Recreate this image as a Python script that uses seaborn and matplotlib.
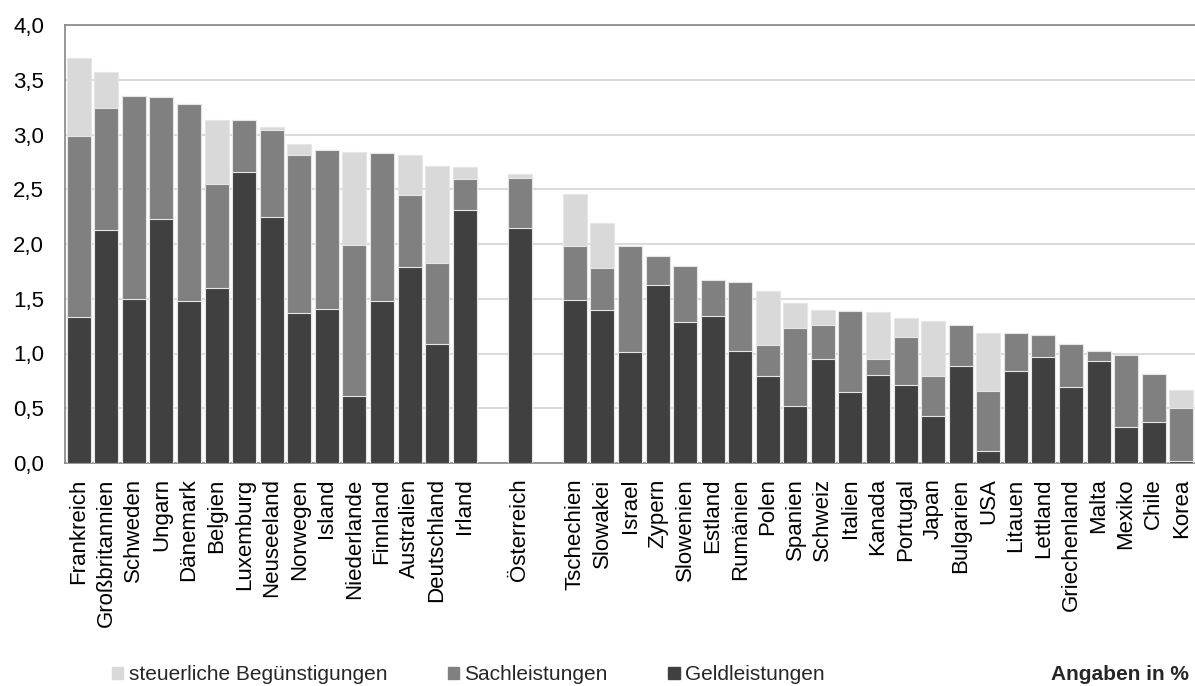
"""
Familienleistungen im OECD/EU-Vergleich (Angaben in % des BIP), gestapelte Balken.
"""

import pandas as pd
import matplotlib
matplotlib.use("Agg")
import matplotlib.pyplot as plt
from matplotlib.patches import Patch
from matplotlib.ticker import FuncFormatter, MultipleLocator
import seaborn as sns

# Daten
laender = ["Frankreich", "Großbritannien", "Schweden", "Ungarn", "Dänemark", "Belgien",
           "Luxemburg", "Neuseeland", "Norwegen", "Island", "Niederlande", "Finnland",
           "Australien", "Deutschland", "Irland", "Österreich", "Tschechien", "Slowakei",
           "Israel", "Zypern", "Slowenien", "Estland", "Rumänien", "Polen", "Spanien",
           "Schweiz", "Italien", "Kanada", "Portugal", "Japan", "Bulgarien", "USA",
           "Litauen", "Lettland", "Griechenland", "Malta", "Mexiko", "Chile", "Korea"]
geld = [1.33, 2.13, 1.50, 2.23, 1.48, 1.60, 2.66, 2.25, 1.37, 1.41, 0.61, 1.48, 1.79,
        1.09, 2.31, 2.15, 1.49, 1.40, 1.01, 1.63, 1.29, 1.34, 1.02, 0.79, 0.52, 0.95,
        0.65, 0.80, 0.71, 0.43, 0.89, 0.11, 0.84, 0.97, 0.69, 0.93, 0.33, 0.37, 0.02]
sach = [1.66, 1.11, 1.85, 1.11, 1.80, 0.95, 0.47, 0.79, 1.44, 1.45, 1.38, 1.35, 0.66,
        0.74, 0.28, 0.45, 0.49, 0.38, 0.97, 0.26, 0.51, 0.33, 0.63, 0.29, 0.71, 0.31,
        0.74, 0.15, 0.44, 0.36, 0.37, 0.55, 0.35, 0.20, 0.40, 0.09, 0.66, 0.44, 0.48]
steuer = [0.71, 0.33, 0.00, 0.00, 0.00, 0.58, 0.00, 0.03, 0.10, 0.00, 0.85, 0.00, 0.36,
          0.88, 0.11, 0.04, 0.48, 0.41, 0.00, 0.00, 0.00, 0.00, 0.00, 0.49, 0.23, 0.14,
          0.00, 0.43, 0.17, 0.51, 0.00, 0.53, 0.00, 0.00, 0.00, 0.00, 0.00, 0.00, 0.17]

df = pd.DataFrame({"land": laender, "geld": geld, "sach": sach, "steuer": steuer})
df["bis_sach"] = df["geld"] + df["sach"]
df["gesamt"] = df["bis_sach"] + df["steuer"]

# Reihenfolge mit Lücken vor und nach Österreich
reihenfolge = laender[:15] + [" "] + ["Österreich"] + ["  "] + laender[16:]

sns.set_theme(style="white")
plt.rcParams["font.family"] = ["Liberation Sans", "DejaVu Sans"]

farben = {"steuer": "#d9d9d9", "sach": "#808080", "geld": "#404040"}

fig = plt.figure(figsize=(11.95, 6.86), dpi=100)
ax = fig.add_axes([65 / 1195, 1 - 463 / 686, 1 - 65 / 1195, (463 - 25) / 686])

# übereinander gezeichnete Summen ergeben die Stapel
for spalte, farbe in [("gesamt", farben["steuer"]), ("bis_sach", farben["sach"]),
                      ("geld", farben["geld"])]:
    sns.barplot(data=df, x="land", y=spalte, order=reihenfolge, color=farbe,
                saturation=1, width=0.87, edgecolor="#e6e6e6", linewidth=0.8,
                errorbar=None, ax=ax, zorder=3)

ax.set_xlim(-0.5, len(reihenfolge) - 0.5)
ax.set_ylim(0, 4)
ax.yaxis.set_major_locator(MultipleLocator(0.5))
ax.yaxis.set_major_formatter(FuncFormatter(lambda v, p: f"{v:.1f}".replace(".", ",")))
ax.grid(axis="y", color="#d4d4d4", linewidth=1.2, zorder=0)
ax.set_axisbelow(True)
ax.set_xlabel("")
ax.set_ylabel("")

for s in ["top", "left", "bottom"]:
    ax.spines[s].set_color("#858585")
    ax.spines[s].set_linewidth(1.2)
ax.spines["right"].set_visible(False)

ax.tick_params(axis="y", length=0, pad=15, labelsize=16, labelcolor="black")
ax.tick_params(axis="x", length=0, pad=11, labelsize=16, labelcolor="black")
plt.setp(ax.get_xticklabels(), rotation=90)

handles = [Patch(color=farben["steuer"], label="steuerliche Begünstigungen"),
           Patch(color=farben["sach"], label="Sachleistungen"),
           Patch(color=farben["geld"], label="Geldleistungen")]
fig.legend(handles=handles, loc="center left", bbox_to_anchor=(112 / 1195, 1 - 675 / 686),
           ncol=3, frameon=False, fontsize=15, handlelength=0.55, handleheight=0.55,
           handletextpad=0.25, columnspacing=2.9, borderpad=0, borderaxespad=0)
fig.text(0.995, 1 - 675 / 686, "Angaben in %", ha="right", va="center",
         fontsize=15, fontweight="bold")

fig.savefig("out.png", dpi=100)
